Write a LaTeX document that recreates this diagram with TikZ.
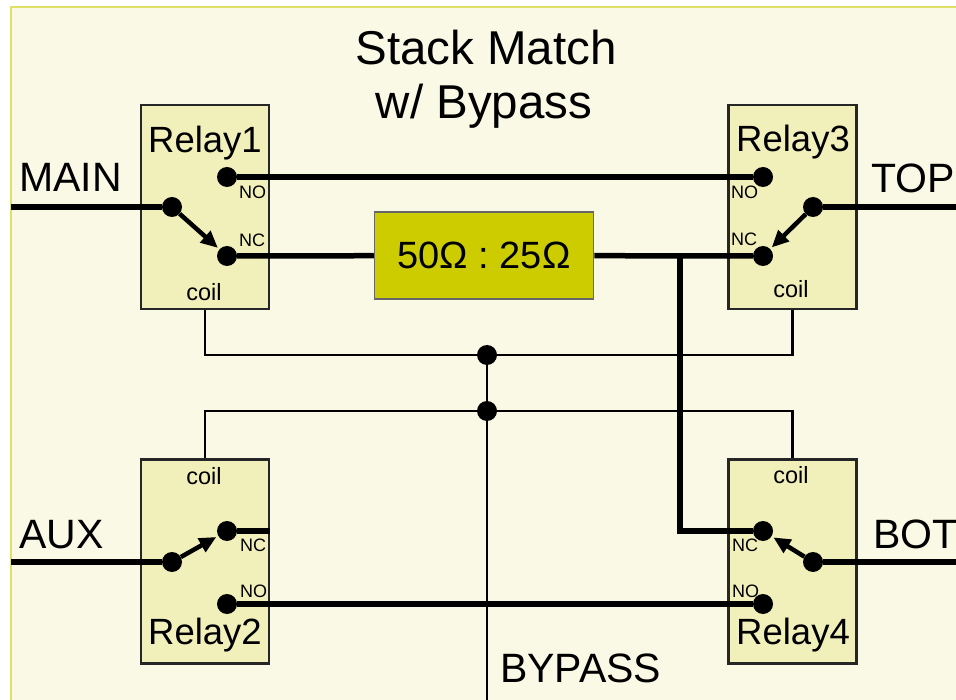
\documentclass[tikz,border=0pt]{standalone}
\usepackage{fontspec}
\setmainfont{Liberation Sans}
\usetikzlibrary{arrows.meta}
\definecolor{bgc}{RGB}{250,249,230}
\definecolor{bordc}{RGB}{224,224,104}
\definecolor{relayc}{RGB}{241,239,186}
\definecolor{resc}{RGB}{204,204,0}
\tikzset{
  relaybox/.style={draw=black!85, line width=2.5pt, fill=relayc, minimum width=128pt, minimum height=204pt, inner sep=0pt},
  resbox/.style={draw=black!60, line width=1.5pt, fill=resc, minimum width=219pt, minimum height=87pt, inner sep=0pt, font=\fontsize{38}{40}\selectfont},
  dotn/.style={circle, fill=black, inner sep=0pt, minimum size=20pt},
  wirethick/.style={line width=5.5pt},
  wirethin/.style={line width=2.5pt},
  swarrow/.style={line width=4.5pt, -{Triangle[length=17pt,width=15pt]}, shorten >=2pt},
  biglbl/.style={inner sep=0pt, font=\fontsize{41}{44}\selectfont},
  relaylbl/.style={inner sep=0pt, font=\fontsize{36.5}{40}\selectfont},
  titlelbl/.style={inner sep=0pt, font=\fontsize{47.5}{52}\selectfont},
  coillbl/.style={inner sep=0pt, font=\fontsize{23.5}{26}\selectfont},
  pinlbl/.style={inner sep=0pt, font=\fontsize{18}{20}\selectfont},
}
\begin{document}
\begin{tikzpicture}[x=1pt,y=-1pt]
\useasboundingbox (0,0) rectangle (956,700);
\clip (0,0) rectangle (956,700);
\fill[white] (0,0) rectangle (956,700);
\draw[draw=bordc, line width=2.5pt, fill=bgc] (11,7) rectangle (975,720);

% title
\node[titlelbl, anchor=base] (title1) at (486,65) {Stack Match};
\node[titlelbl, anchor=base] (title2) at (484,119) {w/ Bypass};

% relay boxes
\node[relaybox] (R1) at (205,207) {};
\node[relaybox] (R3) at (792.5,207) {};
\node[relaybox] (R2) at (205,561.5) {};
\node[relaybox] (R4) at (792.5,561.5) {};

% resistor / transformer
\node[resbox] (RES) at (484,255.5) {50Ω : 25Ω};

% contact dots
\node[dotn] (r1no) at (227,177) {};
\node[dotn] (r1nc) at (227,256) {};
\node[dotn] (r1c)  at (172,207) {};
\node[dotn] (r3no) at (763,177) {};
\node[dotn] (r3nc) at (763,256) {};
\node[dotn] (r3c)  at (813,207) {};
\node[dotn] (r2nc) at (227,531) {};
\node[dotn] (r2no) at (227,604) {};
\node[dotn] (r2c)  at (172,562) {};
\node[dotn] (r4nc) at (763,531) {};
\node[dotn] (r4no) at (763,604) {};
\node[dotn] (r4c)  at (813,562) {};
\node[dotn] (j1) at (487,355) {};
\node[dotn] (j2) at (487,411) {};

% free ends
\coordinate (mainL) at (11,207);
\coordinate (topR) at (956,207);
\coordinate (auxL) at (11,562);
\coordinate (botR) at (956,562);
\coordinate (byB) at (487,700);
\coordinate (br) at (680,253.5);

% thick signal wires
\draw[wirethick] (mainL) -- (r1c);
\draw[wirethick] (r3c) -- (topR);
\draw[wirethick] (auxL) -- (r2c);
\draw[wirethick] (r4c) -- (botR);
\draw[wirethick] (r1no) -- (r3no);
\draw[wirethick] (r1nc) -- (RES);
\draw[wirethick] (RES) -- (r3nc);
\draw[wirethick] (r2no) -- (r4no);
\draw[wirethick] (r2nc) -- (R2.east |- r2nc);
\draw[wirethick] (br) |- (r4nc);

% switch arms
\draw[swarrow] (r1c) -- (r1nc);
\draw[swarrow] (r3c) -- (r3nc);
\draw[swarrow] (r2c) -- (r2nc);
\draw[swarrow] (r4c) -- (r4nc);

% coil wiring
\draw[wirethin] (R1.south) |- (j1.center) -| (R3.south);
\draw[wirethin] (R2.north) |- (j2.center) -| (R4.north);
\draw[wirethin] (j1.center) -- (byB);

% relay labels
\node[relaylbl, anchor=base west] (l1) at (148,153) {Relay1};
\node[relaylbl, anchor=base west] (l3) at (736,152) {Relay3};
\node[relaylbl, anchor=base west] (l2) at (148,644) {Relay2};
\node[relaylbl, anchor=base west] (l4) at (736,644) {Relay4};

% coil labels
\node[coillbl, anchor=base] (c1) at (204,301) {coil};
\node[coillbl, anchor=base] (c3) at (791,298) {coil};
\node[coillbl, anchor=base] (c2) at (204,484) {coil};
\node[coillbl, anchor=base] (c4) at (791,483) {coil};

% pin labels
\node[pinlbl, anchor=base west] (p1no) at (239,199) {NO};
\node[pinlbl, anchor=base west] (p1nc) at (239,247) {NC};
\node[pinlbl, anchor=base west] (p3no) at (731,199) {NO};
\node[pinlbl, anchor=base west] (p3nc) at (731,246) {NC};
\node[pinlbl, anchor=base west] (p2nc) at (240,551) {NC};
\node[pinlbl, anchor=base west] (p2no) at (240,597) {NO};
\node[pinlbl, anchor=base west] (p4nc) at (732,551) {NC};
\node[pinlbl, anchor=base west] (p4no) at (732,597) {NO};

% port labels
\node[biglbl, anchor=base west] (tmain) at (19,192) {MAIN};
\node[biglbl, anchor=base west] (ttop) at (871,193) {TOP};
\node[biglbl, anchor=base west] (taux) at (19,548) {AUX};
\node[biglbl, anchor=base west] (tbot) at (873,548) {BOT};
\node[biglbl, anchor=base west] (tbyp) at (500,682) {BYPASS};
\end{tikzpicture}
\end{document}
